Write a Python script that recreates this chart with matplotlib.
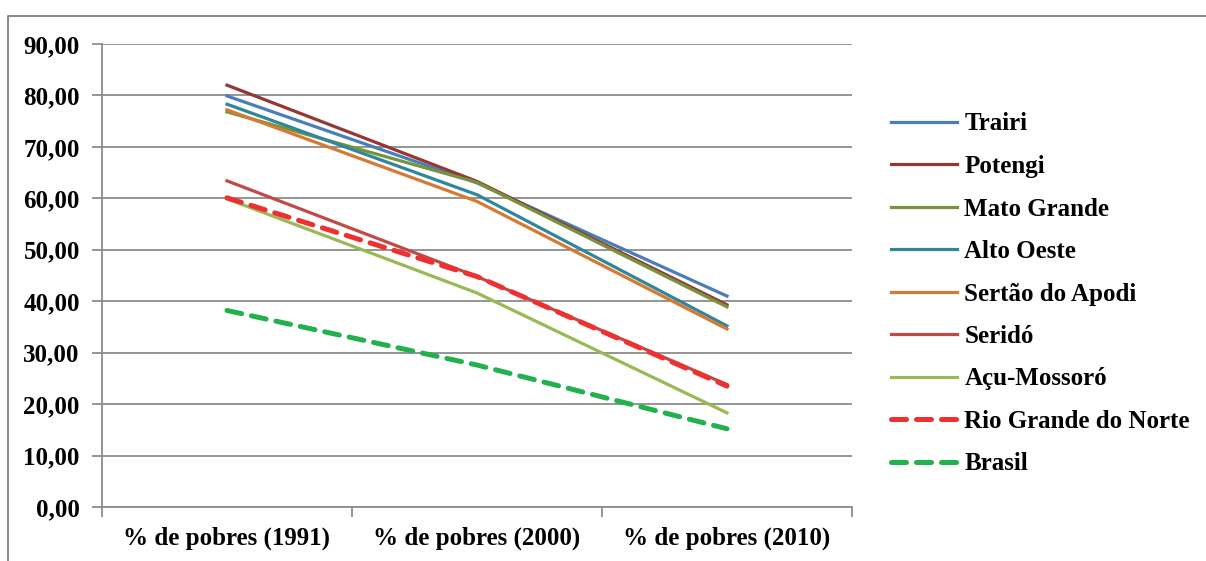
import matplotlib.pyplot as plt
from matplotlib.lines import Line2D

categories = ['% de pobres (1991)', '% de pobres (2000)', '% de pobres (2010)']

trairi = [79.9, 63.0, 41.0]
potengi = [82.0, 63.3, 39.3]
mato_grande = [76.8, 63.1, 38.9]
alto_oeste = [78.3, 60.7, 35.2]
sertao_apodi = [77.2, 59.4, 34.6]
serido = [63.4, 44.8, 23.8]
acu_mossoro = [59.9, 41.6, 18.3]
rio_grande_norte = [60.1, 44.8, 23.5]
brasil = [38.2, 27.6, 15.2]

series = [
    ('Trairi', trairi, '#4A7EBB', '-'),
    ('Potengi', potengi, '#953735', '-'),
    ('Mato Grande', mato_grande, '#77933C', '-'),
    ('Alto Oeste', alto_oeste, '#31869B', '-'),
    ('Sertão do Apodi', sertao_apodi, '#D57A33', '-'),
    ('Seridó', serido, '#BE4B48', '-'),
    ('Açu-Mossoró', acu_mossoro, '#98B954', '-'),
    ('Rio Grande do Norte', rio_grande_norte, '#F03030', '--'),
    ('Brasil', brasil, '#22B14C', '--'),
]

plt.rcParams['font.family'] = ['Liberation Serif', 'DejaVu Serif']
plt.rcParams['font.weight'] = 'bold'
fs = 18

fig = plt.figure(figsize=(12.06, 5.61), dpi=100)
# outer frame: only left and top edges show
fig.lines.append(Line2D([8 / 1206, 8 / 1206, 1.0], [0, 1 - 16 / 561, 1 - 16 / 561],
                        transform=fig.transFigure, color='#888888', linewidth=1.4))

ax = fig.add_axes([102 / 1206, 54 / 561, 750 / 1206, 463 / 561])

x = list(range(len(categories)))
for name, vals, color, ls in series:
    if ls == '--':
        ax.plot(x, vals, color=color, linestyle=(0, (3, 2)), linewidth=3.6,
                label=name, dash_capstyle='round')
    else:
        ax.plot(x, vals, color=color, linewidth=2.3, label=name)

ax.set_xlim(-0.5, 2.5)
ax.set_ylim(0, 90)
ax.set_yticks(range(0, 91, 10))
ax.set_yticklabels(['%d,00' % v for v in range(0, 91, 10)], fontsize=fs, fontweight='bold')
ax.yaxis.grid(True, color='#8C8C8C', linewidth=1.3)
ax.set_axisbelow(True)

ax.set_xticks(x)
ax.set_xticklabels(categories, fontsize=fs, fontweight='bold')
ax.set_xticks([-0.5, 0.5, 1.5, 2.5], minor=True)
ax.tick_params(axis='x', which='major', length=0, pad=14)
ax.tick_params(axis='x', which='minor', length=7, color='#8C8C8C', width=1.3)
ax.tick_params(axis='y', length=7, color='#8C8C8C', width=1.3, pad=9)

for s in ['top', 'right']:
    ax.spines[s].set_visible(False)
for s in ['left', 'bottom']:
    ax.spines[s].set_color('#8C8C8C')
    ax.spines[s].set_linewidth(1.3)

ax.legend(loc='upper left', bbox_to_anchor=(868 / 1206, 1 - 90 / 561),
          bbox_transform=fig.transFigure, frameon=False,
          handlelength=2.65, handletextpad=0.3, labelspacing=0.78,
          prop={'weight': 'bold', 'size': fs})

fig.savefig('out.png', dpi=100)
